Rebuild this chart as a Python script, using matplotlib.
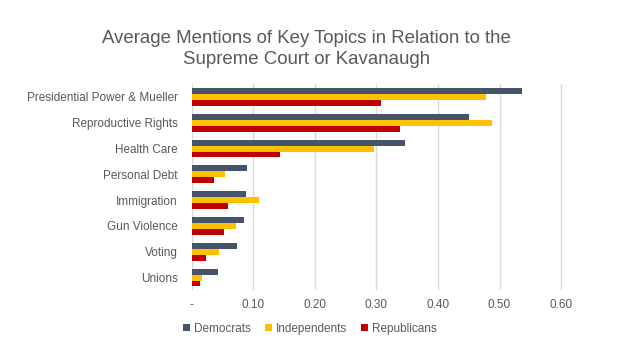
import matplotlib
matplotlib.use("Agg")
import matplotlib.pyplot as plt
import numpy as np
from matplotlib.ticker import FixedLocator, FixedFormatter

plt.rcParams['font.family'] = ['Liberation Sans', 'DejaVu Sans']

categories = ["Presidential Power & Mueller", "Reproductive Rights", "Health Care",
              "Personal Debt", "Immigration", "Gun Violence", "Voting", "Unions"]
democrats = [0.536, 0.450, 0.346, 0.090, 0.088, 0.085, 0.074, 0.043]
independents = [0.478, 0.488, 0.296, 0.054, 0.109, 0.072, 0.044, 0.017]
republicans = [0.307, 0.338, 0.143, 0.036, 0.059, 0.052, 0.023, 0.014]
series_names = ["Democrats", "Independents", "Republicans"]
colors = ["#44546A", "#FFC000", "#C00000"]
xticks = [0, 0.1, 0.2, 0.3, 0.4, 0.5, 0.6]
xtick_labels = ["-", "0.10", "0.20", "0.30", "0.40", "0.50", "0.60"]

fig = plt.figure(figsize=(6.31, 3.56), dpi=100)
ax = fig.add_axes([0.304, 0.184, 0.590, 0.580])

y = np.arange(len(categories))
h = 0.23
for i, (vals, name, c) in enumerate(zip([democrats, independents, republicans], series_names, colors)):
    ax.barh(y + (i - 1) * h, vals, height=h, color=c, label=name, zorder=3)

ax.set_ylim(len(categories) - 0.5, -0.5)
ax.set_yticks(y)
ax.set_yticklabels(categories, fontsize=8.5, color="#595959")
ax.xaxis.set_major_locator(FixedLocator(xticks))
ax.xaxis.set_major_formatter(FixedFormatter(xtick_labels))
ax.tick_params(axis='x', labelsize=8.5, labelcolor="#595959", length=0, pad=6)
ax.tick_params(axis='y', length=0, pad=10)
ax.grid(axis='x', color="#D9D9D9", linewidth=1, zorder=0)
for s in ax.spines.values():
    s.set_visible(False)
ax.set_xlim(0, 0.605)

fig.text(0.4855, 0.862, "Average Mentions of Key Topics in Relation to the\nSupreme Court or Kavanaugh",
         ha='center', va='center', fontsize=13.4, color="#595959", linespacing=1.35)

leg = fig.legend(loc='center', bbox_to_anchor=(0.491, 0.077), ncol=3, frameon=False,
                 fontsize=8.5, handlelength=0.6, handleheight=0.6, handletextpad=0.3,
                 columnspacing=1.2, labelcolor="#595959")

fig.savefig("out.png", dpi=100)
